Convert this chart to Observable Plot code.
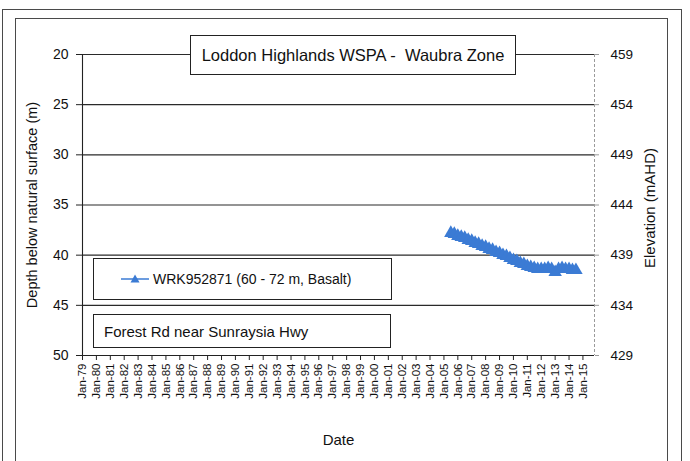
<!DOCTYPE html>
<html>
<head>
<meta charset="utf-8">
<script src="https://cdn.jsdelivr.net/npm/d3@7"></script>
<script src="https://cdn.jsdelivr.net/npm/@observablehq/plot@0.6"></script>
<style>
  body { margin: 0; background: #fff; font-family: "Liberation Sans", Arial, sans-serif; }
  #wrap { position: relative; width: 690px; height: 461px; overflow: hidden; background: #fff; }
  .frame { position: absolute; border: 1px solid #4a4a4a; box-sizing: border-box; }
  .box { position: absolute; border: 1px solid #222; background: #fff; box-sizing: border-box;
         color: #111; white-space: pre; display: flex; align-items: center; }
</style>
</head>
<body>
<div id="wrap"></div>
<script>
// Bore WRK952871 — depth to water below natural surface (m)
const sampleDates = [
  "2005-07-01", "2005-10-01", "2006-01-01", "2006-04-01", "2006-07-01", "2006-10-01",
  "2007-01-01", "2007-04-01", "2007-07-01", "2007-10-01", "2008-01-01", "2008-04-01",
  "2008-07-01", "2008-10-01", "2009-01-01", "2009-04-01", "2009-07-01", "2009-10-01",
  "2010-01-01", "2010-04-01", "2010-07-01", "2010-10-01", "2011-01-01", "2011-04-01",
  "2011-07-01", "2011-10-01", "2012-01-01", "2012-04-01", "2012-07-01", "2012-10-01",
  "2013-01-01", "2013-04-01", "2013-07-01", "2013-10-01", "2014-01-01", "2014-04-01",
  "2014-07-01"
];
const depthValues = [
  37.8, 37.9, 38.1, 38.2, 38.3, 38.5,
  38.6, 38.8, 38.9, 39.1, 39.2, 39.4,
  39.5, 39.7, 39.8, 40.0, 40.1, 40.3,
  40.5, 40.6, 40.8, 40.9, 41.1, 41.2,
  41.3, 41.4, 41.4, 41.4, 41.3, 41.4,
  41.7, 41.4, 41.3, 41.4, 41.4, 41.5,
  41.5
];
const depthTicks = [20, 25, 30, 35, 40, 45, 50];
const gridDepths = [20, 25, 30, 35, 40, 45];
const surfaceElevation = 479; // mAHD at natural surface
const xStart = new Date("1979-01-01");
const xEnd = new Date("2015-11-01");
const yearTicks = d3.utcYear.range(xStart, new Date("2016-01-01"));

const seriesName = "WRK952871 (60 - 72 m, Basalt)";
const chartTitle = "Loddon Highlands WSPA -  Waubra Zone";
const siteName = "Forest Rd near Sunraysia Hwy";
const blue = "#3b7bd4";

const data = sampleDates.map((d, i) => ({ date: new Date(d), depth: depthValues[i] }));

const chart = Plot.plot({
  width: 690,
  height: 461,
  marginLeft: 82,
  marginRight: 96,
  marginTop: 54,
  marginBottom: 106,
  style: { fontFamily: "'Liberation Sans', Arial, sans-serif", color: "#111", background: "transparent" },
  x: { type: "utc", domain: [xStart, xEnd] },
  y: { domain: [20, 50], reverse: true },
  marks: [
    Plot.ruleY(gridDepths, { stroke: "#2a2a2a", strokeWidth: 1.1 }),
    Plot.ruleY([50], { stroke: "#222", strokeWidth: 1.1 }),
    Plot.ruleX([xStart], { stroke: "#222", strokeWidth: 1.1 }),
    Plot.ruleX([xEnd], { stroke: "#9a9a9a", strokeDasharray: "3,2" }),
    Plot.axisX({
      ticks: yearTicks, tickFormat: d3.utcFormat("Jan-%y"), tickRotate: -90,
      tickSize: 5, tickPadding: 3, fontSize: 11.5, label: null, stroke: "#222"
    }),
    Plot.axisY({ ticks: depthTicks, tickSize: 6, tickPadding: 8, fontSize: 14, label: null, stroke: "#222" }),
    Plot.axisY({
      anchor: "right", ticks: depthTicks, tickFormat: d => String(surfaceElevation - d),
      tickSize: 4, tickPadding: 12, fontSize: 13.5, label: null, stroke: "#9a9a9a"
    }),
    Plot.text(["Depth below natural surface (m)"], { frameAnchor: "left", dx: -50, rotate: -90, textAnchor: "middle", fontSize: 14.5, fill: "#111" }),
    Plot.text(["Elevation (mAHD)"], { frameAnchor: "right", dx: 56, dy: 3, rotate: -90, textAnchor: "middle", fontSize: 15, fill: "#111" }),
    Plot.text(["Date"], { frameAnchor: "bottom", dy: 89, fontSize: 15, fill: "#111" }),
    Plot.line(data, { x: "date", y: "depth", stroke: blue, strokeWidth: 1.5 }),
    Plot.dot(data, { x: "date", y: "depth", symbol: "triangle", fill: blue, r: 5 })
  ]
});

const wrap = document.getElementById("wrap");
wrap.appendChild(chart);

function addDiv(cls, css, html) {
  const el = document.createElement("div");
  el.className = cls;
  el.style.cssText = css;
  if (html != null) el.innerHTML = html;
  wrap.appendChild(el);
  return el;
}

// page frames
addDiv("frame", "left:2px;top:9px;width:680px;height:520px;");
addDiv("frame", "left:15px;top:18px;width:653px;height:520px;");

// title box
const t = addDiv("box", "left:190px;top:35px;width:326px;height:40px;justify-content:center;font-size:16.5px;");
t.textContent = chartTitle;

// legend box
const lg = addDiv("box", "left:93px;top:258px;width:299px;height:42px;padding-left:25px;font-size:14px;");
lg.innerHTML = `<svg width="32" height="12" style="margin-right:2px"><line x1="2" x2="30" y1="6" y2="6" stroke="${blue}" stroke-width="1.5"/><polygon points="16,1.5 20.5,9.5 11.5,9.5" fill="${blue}"/></svg>`;
const lgText = document.createElement("span");
lgText.textContent = seriesName;
lg.appendChild(lgText);

// site box
const s = addDiv("box", "left:93px;top:314px;width:298px;height:34px;padding-left:10px;font-size:15px;");
s.textContent = siteName;
</script>
</body>
</html>
